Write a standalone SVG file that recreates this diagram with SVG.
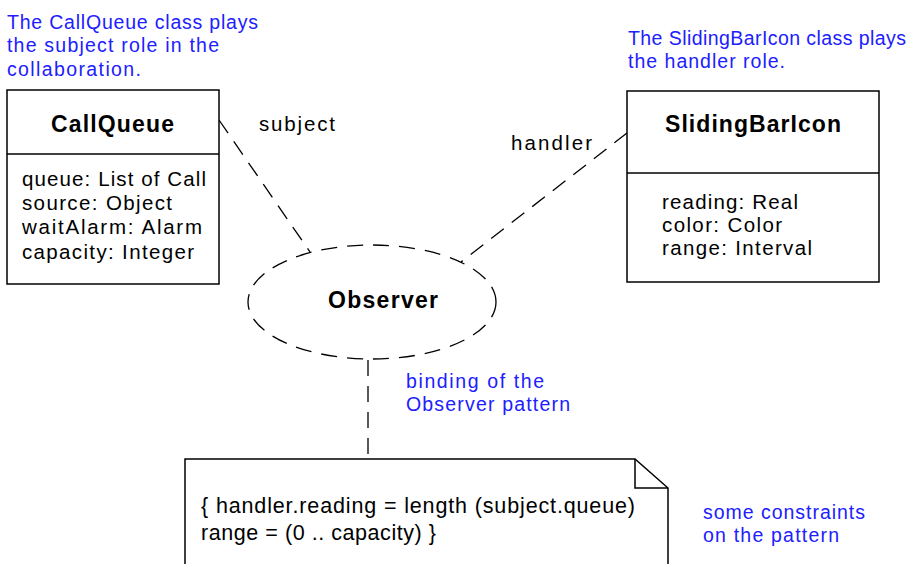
<svg xmlns="http://www.w3.org/2000/svg" width="918" height="564" viewBox="0 0 918 564">
<style>
.box{fill:#fff;stroke:#000;stroke-width:1.5}
.dash{fill:none;stroke:#000;stroke-width:1.3;stroke-dasharray:16 10}
.t{font-family:"Liberation Sans",Arial,sans-serif;font-size:20.5px;fill:#000}
.nt{font-family:"Liberation Sans",Arial,sans-serif;font-size:21.5px;fill:#000}
.b{font-family:"Liberation Sans",Arial,sans-serif;font-size:23px;font-weight:bold;fill:#000}
.n{font-family:"Liberation Sans",Arial,sans-serif;font-size:19.5px;fill:#2020ff}
</style>
<rect width="918" height="564" fill="#fff"/>
<g id="connectors">
<line class="dash" x1="219" y1="120" x2="310" y2="252"/>
<line class="dash" x1="627" y1="133" x2="461" y2="262"/>
<line class="dash" x1="368" y1="360" x2="368" y2="459"/>
</g>
<g id="callqueue">
<rect class="box" x="7" y="90" width="212" height="194"/>
<line class="box" x1="7" y1="154" x2="219" y2="154"/>
<text class="b" x="51" y="132" textLength="123" lengthAdjust="spacing">CallQueue</text>
<text class="t" x="22" y="186" textLength="184" lengthAdjust="spacing">queue: List of Call</text>
<text class="t" x="22" y="210" textLength="150" lengthAdjust="spacing">source: Object</text>
<text class="t" x="22" y="234" textLength="180" lengthAdjust="spacing">waitAlarm: Alarm</text>
<text class="t" x="22" y="259" textLength="172" lengthAdjust="spacing">capacity: Integer</text>
</g>
<g id="slidingbaricon">
<rect class="box" x="627" y="91" width="252" height="191"/>
<line class="box" x1="627" y1="173" x2="879" y2="173"/>
<text class="b" x="665" y="132" textLength="176" lengthAdjust="spacing">SlidingBarIcon</text>
<text class="t" x="662" y="209" textLength="136" lengthAdjust="spacing">reading: Real</text>
<text class="t" x="662" y="232" textLength="120" lengthAdjust="spacing">color: Color</text>
<text class="t" x="662" y="255" textLength="150" lengthAdjust="spacing">range: Interval</text>
</g>
<g id="observer">
<ellipse class="dash" cx="372" cy="302" rx="124" ry="57"/>
<text class="b" x="328" y="308" textLength="110" lengthAdjust="spacing">Observer</text>
</g>
<g id="note">
<path class="box" d="M185 564 V459 H635 L668 488 V564"/>
<path fill="none" stroke="#000" stroke-width="1.5" d="M635 459 V488 H668"/>
<text class="nt" x="201" y="513" textLength="434" lengthAdjust="spacing">{ handler.reading = length (subject.queue)</text>
<text class="nt" x="201" y="540" textLength="235" lengthAdjust="spacing">range = (0 .. capacity) }</text>
</g>
<g id="labels">
<text class="t" x="259" y="131" textLength="76" lengthAdjust="spacing">subject</text>
<text class="t" x="511" y="150" textLength="81" lengthAdjust="spacing">handler</text>
<text class="n" x="7" y="29" textLength="251" lengthAdjust="spacing">The CallQueue class plays</text>
<text class="n" x="7" y="52" textLength="212" lengthAdjust="spacing">the subject role in the</text>
<text class="n" x="7" y="76" textLength="134" lengthAdjust="spacing">collaboration.</text>
<text class="n" x="628" y="45" textLength="278" lengthAdjust="spacing">The SlidingBarIcon class plays</text>
<text class="n" x="628" y="68" textLength="157" lengthAdjust="spacing">the handler role.</text>
<text class="n" x="406" y="388" textLength="138" lengthAdjust="spacing">binding of the</text>
<text class="n" x="406" y="411" textLength="164" lengthAdjust="spacing">Observer pattern</text>
<text class="n" x="703" y="519" textLength="162" lengthAdjust="spacing">some constraints</text>
<text class="n" x="703" y="542" textLength="136" lengthAdjust="spacing">on the pattern</text>
</g>
</svg>
